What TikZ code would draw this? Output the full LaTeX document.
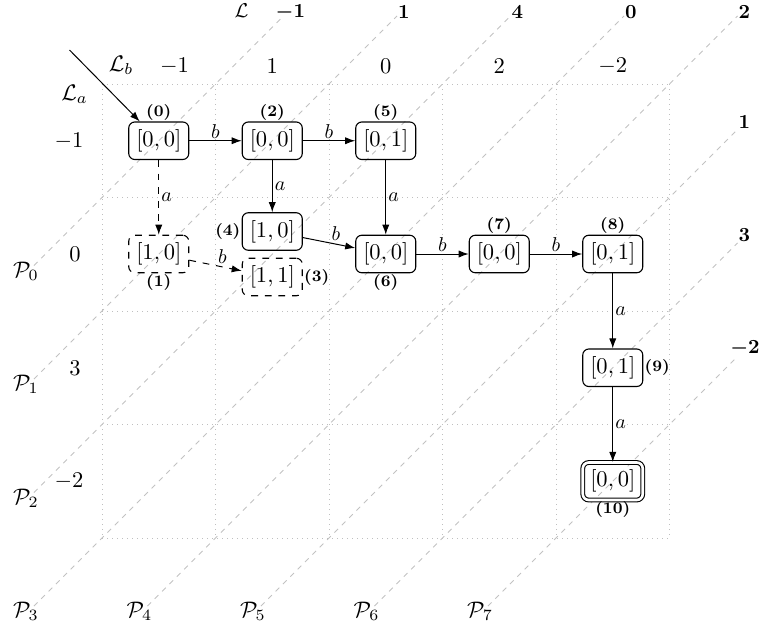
\RequirePackage{fix-cm}
\documentclass[tikz,border=0pt]{standalone}
\usetikzlibrary{arrows.meta,calc}
\begin{document}
\begin{tikzpicture}[x=0.5pt,y=-0.5pt,
  fn/.style={font=\fontsize{11.25}{13.5}\selectfont},
  st/.style={draw, rounded corners=3pt, fn, inner sep=3.75pt, line width=0.55pt},
  dst/.style={st, dash pattern=on 3.4pt off 3.4pt},
  fin/.style={st, double, double distance=1.3pt},
  idl/.style={font=\fontsize{8}{9.5}\selectfont\bfseries, inner sep=0.5pt},
  tr/.style={-{Latex[length=5pt,width=3.6pt]}, line width=0.5pt},
  dtr/.style={tr, dash pattern=on 3.4pt off 3.4pt},
  elab/.style={font=\fontsize{10}{12}\selectfont, inner sep=1pt},
  bl/.style={font=\fontsize{10}{12}\selectfont\boldmath},
  gridl/.style={black!25, dotted, line width=0.5pt},
  diag/.style={black!24, dash pattern=on 2.6pt off 2.6pt, line width=0.4pt}]
\useasboundingbox (0,0) rectangle (763,631);

% grid
\foreach \gx in {102,215.5,329,442.5,556,669.5} \draw[gridl] (\gx,84) -- (\gx,538);
\foreach \gy in {84,197.5,311,424.5,538} \draw[gridl] (102,\gy) -- (669.5,\gy);

% diagonals
\foreach \k/\sx/\sy/\ex/\ey in {0/33.9/265.6/283.6/15.9, 1/33.9/379.1/397.1/15.9,
  2/33.9/492.6/510.6/15.9, 3/33.9/606.1/624.1/15.9, 4/147.4/606.1/737.6/15.9,
  5/260.9/606.1/737.6/129.4, 6/374.4/606.1/737.6/242.9, 7/487.9/606.1/737.6/356.4}{
  \coordinate (s\k) at (\sx,\sy);
  \coordinate (e\k) at (\ex,\ey);
  \draw[diag] (s\k) -- (e\k);
  \node[fn] (P\k) at ($(s\k)+(-8,5.5)$) {$\mathcal{P}_{\k}$};
}

% bold end labels
\node[font=\fontsize{10}{12}\selectfont] (Lt) at (241.5,11) {$\mathcal{L}$};
\node[bl] (E0) at ($(e0)+(6.7,-4)$) {$-1$};
\node[bl] (E1) at ($(e1)+(6.7,-4)$) {$1$};
\node[bl] (E2) at ($(e2)+(6.7,-4)$) {$4$};
\node[bl] (E3) at ($(e3)+(6.7,-4)$) {$0$};
\node[bl] (E4) at ($(e4)+(6.7,-4)$) {$2$};
\node[bl] (E5) at ($(e5)+(6.7,-7.5)$) {$1$};
\node[bl] (E6) at ($(e6)+(6.7,-7.5)$) {$3$};
\node[bl] (E7) at ($(e7)+(7.4,-8)$) {$-2$};

% column header row
\node[fn] (Lb) at (121,65) {$\mathcal{L}_b$};
\node[fn] (b1) at (174.5,66) {$-1$};
\node[fn] (b2) at (272.25,66) {$1$};
\node[fn] (b3) at (385.75,66) {$0$};
\node[fn] (b4) at (499.25,66) {$2$};
\node[fn] (b5) at (612.75,66) {$-2$};

% row header column
\node[fn] (La) at (74.5,94) {$\mathcal{L}_a$};
\node[fn] (a1) at (69,141) {$-1$};
\node[fn] (a2) at (75,254.25) {$0$};
\node[fn] (a3) at (75,367.75) {$3$};
\node[fn] (a4) at (69,481.25) {$-2$};

% states
\node[st, label={[idl]above:(0)}] (n0) at (158.75,140.75) {$[0,0]$};
\node[st, label={[idl]above:(2)}] (n2) at (272.25,140.75) {$[0,0]$};
\node[st, label={[idl]above:(5)}] (n5) at (385.75,140.75) {$[0,1]$};
\node[dst, label={[idl]below:(1)}] (n1) at (158.75,254) {$[1,0]$};
\node[st, label={[idl]left:(4)}] (n4) at (272.25,231.5) {$[1,0]$};
\node[dst, label={[idl]right:(3)}] (n3) at (272.25,277) {$[1,1]$};
\node[st, label={[idl]below:(6)}] (n6) at (385.75,254) {$[0,0]$};
\node[st, label={[idl]above:(7)}] (n7) at (499.25,254) {$[0,0]$};
\node[st, label={[idl]above:(8)}] (n8) at (612.75,254) {$[0,1]$};
\node[st, label={[idl]right:(9)}] (n9) at (612.75,367.75) {$[0,1]$};
\node[fin, label={[idl]below:(10)}] (n10) at (612.75,481.25) {$[0,0]$};

% initial arrow
\coordinate (init) at (69.5,50);
\draw[tr] (init) -- (n0);

% transitions
\draw[tr] (n0) -- node[elab, above] {$b$} (n2);
\draw[tr] (n2) -- node[elab, above] {$b$} (n5);
\draw[dtr] (n0) -- node[elab, right] {$a$} (n1);
\draw[tr] (n2) -- node[elab, right] {$a$} (n4);
\draw[tr] (n5) -- node[elab, right] {$a$} (n6);
\draw[dtr] (n1) -- node[elab, anchor=south west] {$b$} (n3);
\draw[tr] (n4) -- node[elab, anchor=south west] {$b$} (n6);
\draw[tr] (n6) -- node[elab, above] {$b$} (n7);
\draw[tr] (n7) -- node[elab, above] {$b$} (n8);
\draw[tr] (n8) -- node[elab, right] {$a$} (n9);
\draw[tr] (n9) -- node[elab, right] {$a$} (n10);
\end{tikzpicture}
\end{document}
